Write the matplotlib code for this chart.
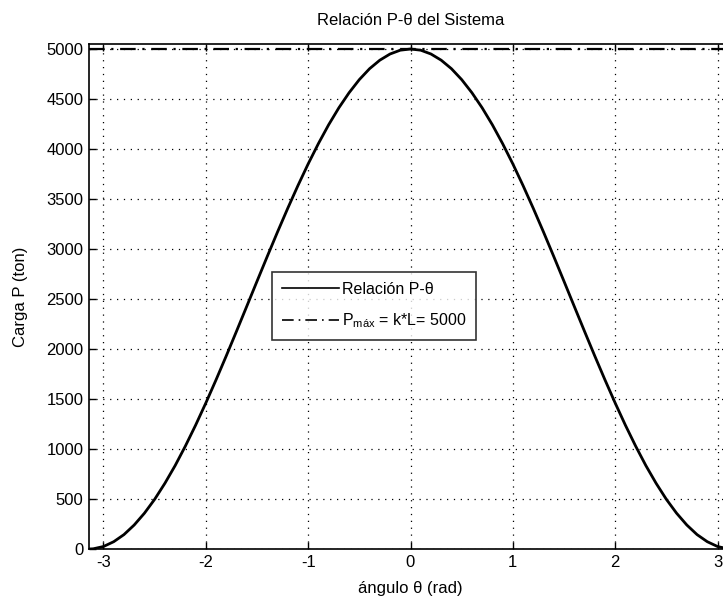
import numpy as np
import matplotlib
matplotlib.use('Agg')
import matplotlib.pyplot as plt

plt.rcParams['font.family'] = ['Liberation Sans', 'DejaVu Sans']
plt.rcParams['mathtext.fontset'] = 'custom'
plt.rcParams['mathtext.rm'] = 'Liberation Sans'
plt.rcParams['mathtext.it'] = 'Liberation Sans'
plt.rcParams['mathtext.default'] = 'regular'
plt.rcParams['axes.unicode_minus'] = False

# valores (mitad derecha, la curva es simetrica)
theta_der = [0.0, 0.1, 0.2, 0.3, 0.4, 0.5, 0.6, 0.7, 0.8, 0.9, 1.0,
             1.1, 1.2, 1.3, 1.4, 1.5, 1.6, 1.7, 1.8, 1.9, 2.0,
             2.1, 2.2, 2.3, 2.4, 2.5, 2.6, 2.7, 2.8, 2.9, 3.0, 3.1, 3.1416]
carga_der = [5000, 4988, 4950, 4888, 4803, 4694, 4563, 4412, 4242, 4054, 3851,
             3634, 3406, 3169, 2925, 2677, 2427, 2178, 1932, 1692, 1460,
             1238, 1029, 834, 657, 497, 358, 240, 144, 73, 25, 2, 0]
p_max = 5000
x_ticks = [-3, -2, -1, 0, 1, 2, 3]
y_ticks = [0, 500, 1000, 1500, 2000, 2500, 3000, 3500, 4000, 4500, 5000]

theta = [-t for t in theta_der[::-1]] + theta_der[1:]
carga = carga_der[::-1] + carga_der[1:]

fig = plt.figure(figsize=(7.23, 6.03), dpi=100)
ax = fig.add_axes([89 / 723, 54 / 603, (732 - 89) / 723, (549 - 44) / 603])

ax.plot(theta, carga, color='black', linewidth=2.0, label='Relación P-θ')
ax.plot([-np.pi, np.pi], [p_max, p_max], color='black', linewidth=1.6,
        linestyle=(0, (7, 3, 1, 3)), label=r'P$_{\mathrm{máx}}$ = k*L= 5000')

ax.set_xlim(-np.pi, np.pi)
ax.set_ylim(0, 5050)
ax.set_xticks(x_ticks)
ax.set_yticks(y_ticks)
ax.tick_params(direction='in', top=True, right=True, labelsize=12, length=5,
               width=1, pad=4)
for s in ax.spines.values():
    s.set_linewidth(1.2)

ax.grid(True, color='black', linestyle=(0, (1, 4.5)), linewidth=0.9)

ax.set_title('Relación P-θ del Sistema', fontsize=12, pad=14)
ax.set_xlabel('ángulo θ (rad)', fontsize=12, labelpad=8)
ax.set_ylabel('Carga P (ton)', fontsize=12, labelpad=13)

leg = ax.legend(loc='center', bbox_to_anchor=(374 / 723, (603 - 306) / 603),
                bbox_transform=fig.transFigure, fontsize=11.5, frameon=True,
                fancybox=False, handlelength=3.6, borderpad=0.6,
                labelspacing=0.9, handletextpad=0.15, borderaxespad=0)
leg.get_frame().set_edgecolor('black')
leg.get_frame().set_linewidth(1.2)
for ln in leg.get_lines():
    ln.set_linewidth(1.2)

fig.savefig('out.png', dpi=100)
